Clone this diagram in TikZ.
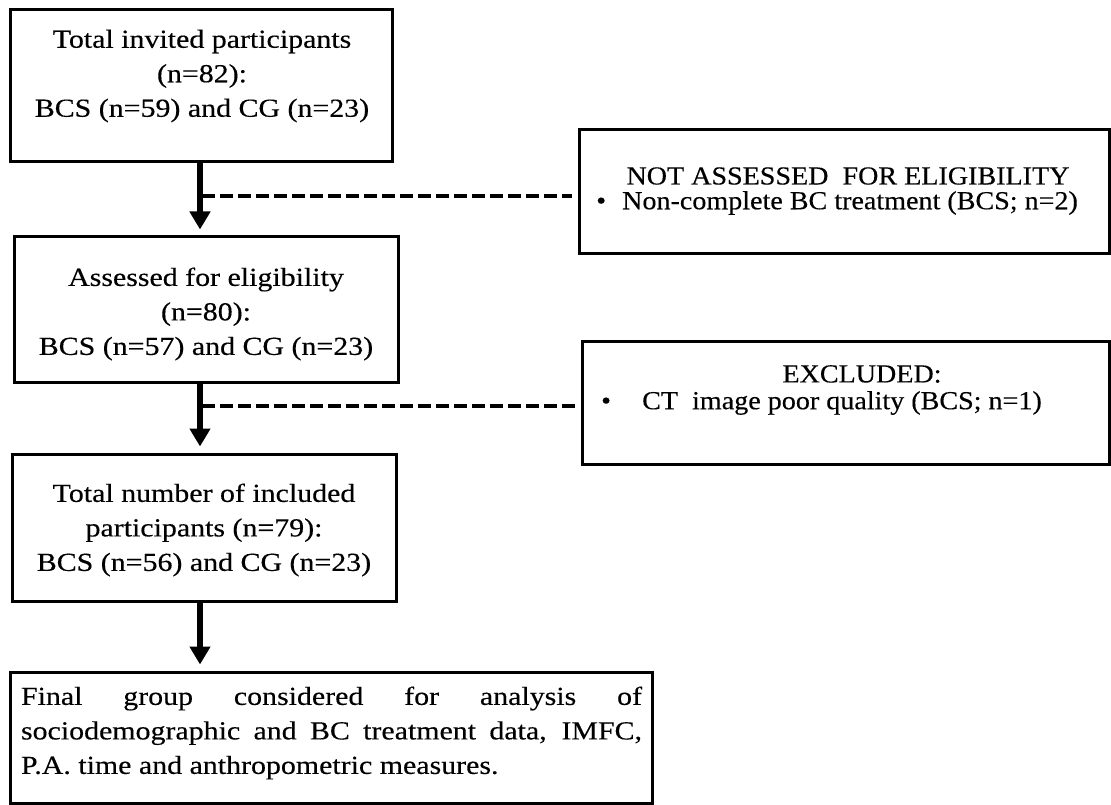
\documentclass[tikz,border=0pt]{standalone}
\usepackage{fontspec}
\setmainfont[FakeStretch=1.08,FakeBold=0.3]{Liberation Serif}
\newfontfamily\lfont[FakeStretch=1.15,FakeBold=0.3]{Liberation Serif}
\usetikzlibrary{arrows.meta}
\begin{document}
\begin{tikzpicture}[x=1pt,y=-1pt,
  box/.style={draw, line width=3pt, rectangle, inner sep=0pt},
  txt/.style={font=\lfont\fontsize{26}{34.5}\selectfont, align=center, inner sep=0pt},
  rtxt/.style={font=\fontsize{26}{28}\selectfont, inner sep=0pt},
  arr/.style={line width=5.5pt, -{Triangle[width=20pt,length=18pt]}, shorten >=6pt},
  dsh/.style={line width=4.5pt, dash pattern=on 13pt off 5pt, shorten >=6pt}]
\useasboundingbox[fill=white] (0,0) rectangle (1111,805);

% boxes
\node[box, minimum width=382pt, minimum height=152pt] (b1) at (201,86) {};
\node[box, minimum width=384pt, minimum height=145pt] (b2) at (206,309.5) {};
\node[box, minimum width=384pt, minimum height=147pt] (b3) at (204,527.5) {};
\node[box, minimum width=642pt, minimum height=131pt] (b4) at (331,737.5) {};
\node[box, minimum width=530pt, minimum height=123pt] (r1) at (844,191.5) {};
\node[box, minimum width=527pt, minimum height=123pt] (r2) at (845.5,402.5) {};

% texts
\node[txt] (t1) at (202,76) {Total invited participants\\(n=82):\\BCS (n=59) and CG (n=23)};
\node[txt] (t2) at (206,314) {Assessed for eligibility\\(n=80):\\BCS (n=57) and CG (n=23)};
\node[txt] (t3) at (204,530) {Total number of included\\participants (n=79):\\BCS (n=56) and CG (n=23)};
\node[txt, text width=621pt, align=justify] (t4) at (331.5,733) {Final group considered for analysis of\linebreak sociodemographic and BC treatment data, IMFC,\linebreak P.A. time and anthropometric measures.};

\node[rtxt] (r1h) at (848,176) {NOT ASSESSED\ \ FOR ELIGIBILITY};
\node[rtxt, anchor=west] (r1b) at (580,203) {\makebox[42pt][c]{•}Non-complete BC treatment (BCS; n=2)};
\node[rtxt] (r2h) at (862,374) {EXCLUDED:};
\node[rtxt, anchor=west] (r2b) at (599,403) {\makebox[43pt][l]{\hspace{2pt}•}CT\ \ image poor quality (BCS; n=1)};

% connectors
\coordinate (ax) at (200,0);
\draw[arr] (b1.south -| ax) -- (b2.north -| ax);
\draw[arr] (b2.south -| ax) -- (b3.north -| ax);
\draw[arr] (b3.south -| ax) -- (b4.north -| ax);
\coordinate (d1) at (202,196);
\coordinate (d2) at (202,406);
\draw[dsh] (d1) -- (d1 -| r1.west);
\draw[dsh] (d2) -- (d2 -| r2.west);
\end{tikzpicture}
\end{document}
